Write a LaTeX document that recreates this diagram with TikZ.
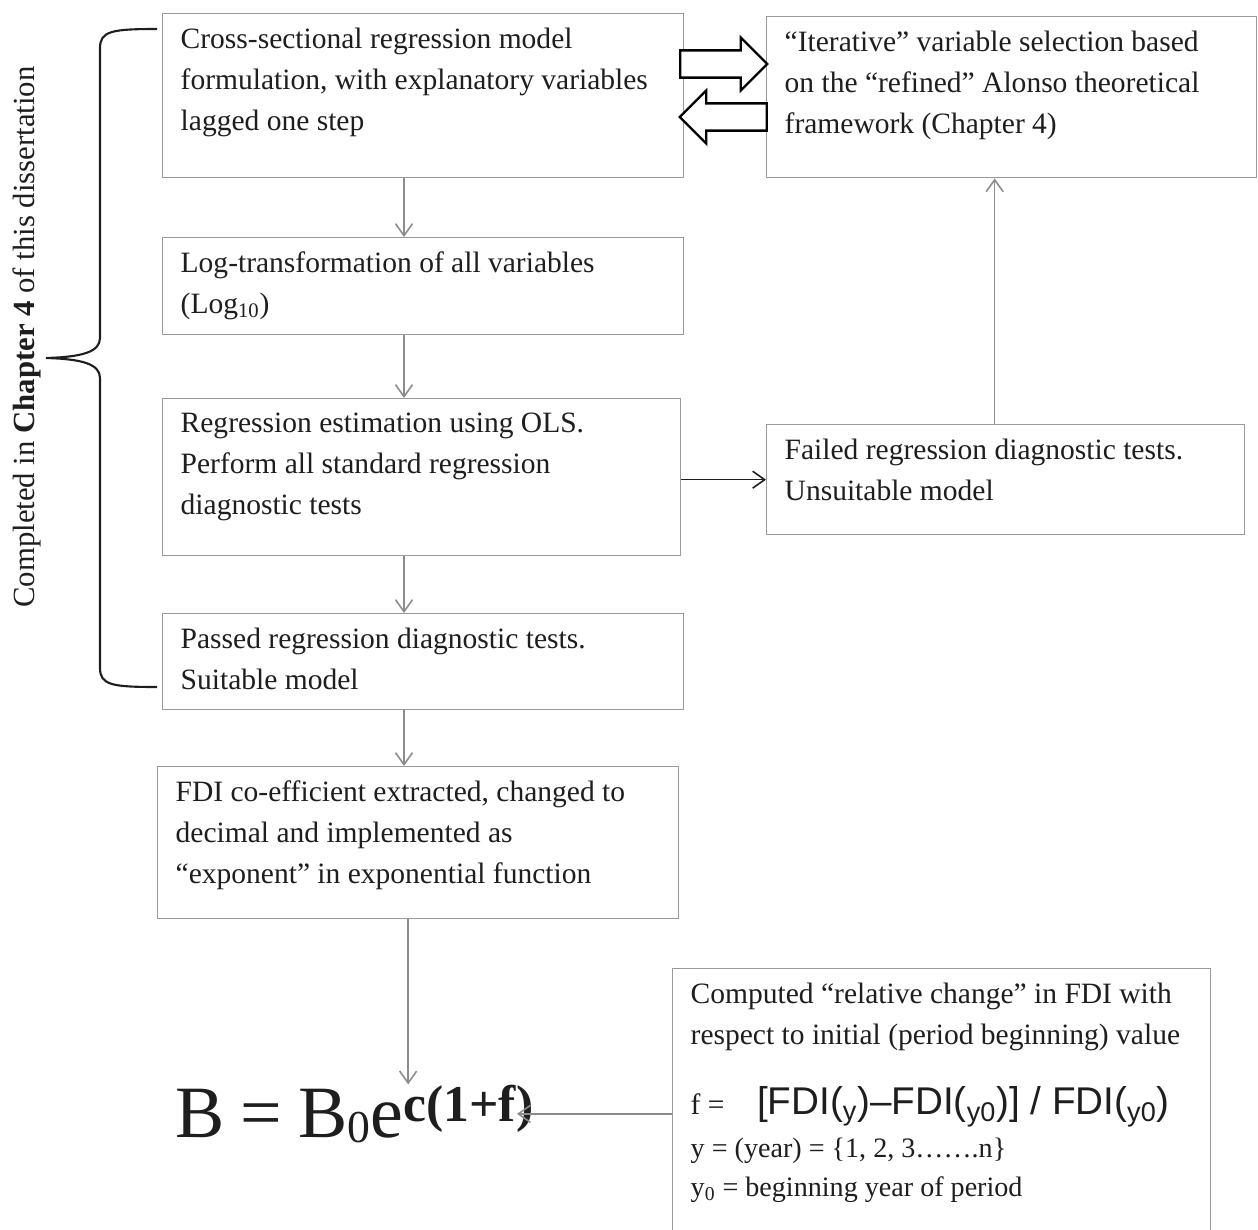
\documentclass[tikz,border=0pt]{standalone}
\usepackage{fontspec}
\setmainfont{Liberation Serif}
\newfontfamily\fdifont{Liberation Sans}
\usetikzlibrary{arrows.meta,shapes.arrows}
\definecolor{ink}{HTML}{1E1E1E}
\definecolor{boxgrey}{HTML}{9A9A9A}
\definecolor{linkgrey}{HTML}{8C8C8C}
\newcommand{\flowbox}[5]{%
  \node[flowbox] (#1) at #2
       {\parbox[t][\dimexpr#4-0.56cm\relax][t]{\dimexpr#3-0.72cm\relax}{\raggedright #5}};}

\begin{document}
\begin{tikzpicture}[x=0.02cm,y=-0.02cm,
  flowbox/.style={draw=boxgrey,line width=0.8pt,fill=white,anchor=north west,
                  inner xsep=0.36cm,inner ysep=0.28cm,text=ink,
                  font=\fontsize{16.8}{23.3}\selectfont},
  link/.style={-{Straight Barb[length=2.4mm,width=3.4mm]},linkgrey,line width=0.9pt},
  blockarrow/.style={single arrow,draw=black,line width=1.3pt,fill=white,
                     inner sep=0pt,text height=0.5cm,text depth=0pt,
                     minimum height=1.74cm,single arrow head extend=0.26cm}]
  \clip (0,0) rectangle (1258,1230);

  % Steps of the estimation (left column)
  \flowbox{crosssec}{(162,13)}{10.42cm}{3.28cm}{Cross-sectional regression model\\
    formulation, with explanatory variables\\ lagged one step}
  \flowbox{logtrans}{(162,237)}{10.42cm}{1.94cm}{Log-transformation of all variables\\
    (Log\textsubscript{10})}
  \flowbox{olsest}{(162,398)}{10.36cm}{3.14cm}{Regression estimation using OLS.\\
    Perform all standard regression\\ diagnostic tests}
  \flowbox{passed}{(162,613)}{10.42cm}{1.92cm}{Passed regression diagnostic tests.\\
    Suitable model}
  \flowbox{fdicoef}{(157,766)}{10.42cm}{3.04cm}{FDI co-efficient extracted, changed to\\
    decimal and implemented as\\ “exponent” in exponential function}
  % Right column
  \flowbox{iterative}{(766,16)}{9.8cm}{3.22cm}{“Iterative” variable selection based\\
    on the “refined” Alonso theoretical\\ framework (Chapter 4)}
  \flowbox{failed}{(766,424)}{9.56cm}{2.2cm}{Failed regression diagnostic tests.\\
    Unsuitable model}
  \flowbox{relchange}{(672,968)}{10.76cm}{5.9cm}{Computed “relative change” in FDI with\\
    respect to initial (period beginning) value\\[17pt]
    \mbox{f =\hspace{1.1em}{\fdifont\fontsize{22}{26}\selectfont [FDI(\textsubscript{y})–FDI(\textsubscript{y0})] / FDI(\textsubscript{y0})}}\\[3pt]
    {\fontsize{16}{21}\selectfont y = (year) = \{1, 2, 3…….n\}\\[-1pt]
    y\textsubscript{0} = beginning year of period}}

  % Growth formula
  \node[anchor=base west,inner sep=0pt,text=ink,font=\fontsize{42}{48}\selectfont]
       (formula) at (175,1137)
       {B\hspace{0.22em}=\hspace{0.22em}B{\fontsize{26}{28}\selectfont\raisebox{-0.12em}{0}}e\textsuperscript{\textbf{c(1+f)}}};

  % Chapter brace
  \draw[ink,line width=1.2pt] (157,29) .. controls (112,29) and (100,31) .. (100,48)
    -- (100,338) .. controls (100,352) and (82,357) .. (46,358)
    .. controls (82,359) and (100,364) .. (100,378)
    -- (100,668) .. controls (100,685) and (112,687) .. (157,687);
  \node[rotate=90,text=ink,font=\fontsize{17.5}{20}\selectfont] (chapnote) at (27,337)
       {Completed in \textbf{Chapter 4} of this dissertation};

  % Block arrows between the model and the variable selection
  \node[blockarrow] (fwdarrow) at (717,64) {};
  \node[blockarrow,shape border rotate=180] (backarrow) at (730,117) {};

  \coordinate (spine) at (404,0);
  \draw[link] (crosssec.south -| spine) -- (logtrans.north -| spine);
  \draw[link] (logtrans.south -| spine) -- (olsest.north -| spine);
  \draw[link] (olsest.south -| spine) -- (passed.north -| spine);
  \draw[link] (passed.south -| spine) -- (fdicoef.north -| spine);
  \draw[link] ([xshift=-0.2cm]fdicoef.south) -- ([xshift=-0.2cm]fdicoef.south |- formula.north);
  \draw[link,ink] (olsest.east |- failed.west) -- (failed.west);
  \draw[link] ([xshift=-0.22cm]failed.north) -- ([xshift=-0.22cm]failed.north |- iterative.south);
  \draw[link] (relchange.west |- formula.east) -- ([xshift=-0.35cm]formula.east);
\end{tikzpicture}
\end{document}
